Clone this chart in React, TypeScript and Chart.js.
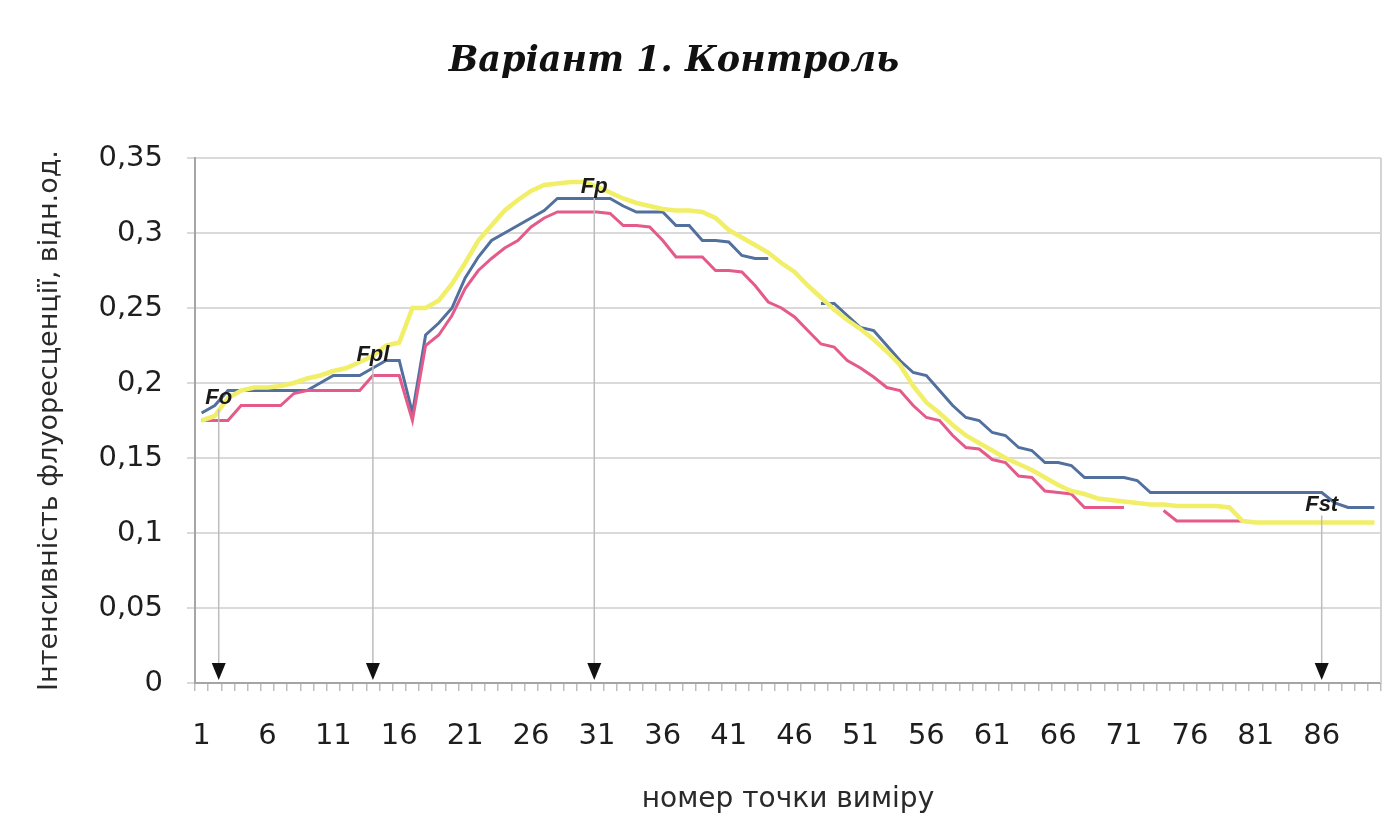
import React, { useEffect, useRef } from "react";
import { Chart, registerables } from "chart.js";

Chart.register(...registerables);

const TITLE = "Варіант 1. Контроль";
const Y_TITLE = "Інтенсивність флуоресценції, відн.од.";
const X_TITLE = "номер точки виміру";

const POINT_COUNT = 90;
const categories: string[] = Array.from({ length: POINT_COUNT }, (_, i) => String(i + 1));

const blueSeries: (number | null)[] = [
  0.18, 0.185, 0.195, 0.195, 0.195, 0.195, 0.195, 0.195, 0.195, 0.2,
  0.205, 0.205, 0.205, 0.21, 0.215, 0.215, 0.18, 0.232, 0.24, 0.25,
  0.27, 0.284, 0.295, 0.3, 0.305, 0.31, 0.315, 0.323, 0.323, 0.323,
  0.323, 0.323, 0.318, 0.314, 0.314, 0.314, 0.305, 0.305, 0.295, 0.295,
  0.294, 0.285, 0.283, 0.283, null, null, null, 0.253, 0.253, 0.245,
  0.237, 0.235, 0.225, 0.215, 0.207, 0.205, 0.195, 0.185, 0.177, 0.175,
  0.167, 0.165, 0.157, 0.155, 0.147, 0.147, 0.145, 0.137, 0.137, 0.137,
  0.137, 0.135, 0.127, 0.127, 0.127, 0.127, 0.127, 0.127, 0.127, 0.127,
  0.127, 0.127, 0.127, 0.127, 0.127, 0.127, 0.12, 0.117, 0.117, 0.117,
];

const pinkSeries: (number | null)[] = [
  0.175, 0.175, 0.175, 0.185, 0.185, 0.185, 0.185, 0.193, 0.195, 0.195,
  0.195, 0.195, 0.195, 0.205, 0.205, 0.205, 0.175, 0.225, 0.232, 0.245,
  0.263, 0.275, 0.283, 0.29, 0.295, 0.304, 0.31, 0.314, 0.314, 0.314,
  0.314, 0.313, 0.305, 0.305, 0.304, 0.295, 0.284, 0.284, 0.284, 0.275,
  0.275, 0.274, 0.265, 0.254, 0.25, 0.244, 0.235, 0.226, 0.224, 0.215,
  0.21, 0.204, 0.197, 0.195, 0.185, 0.177, 0.175, 0.165, 0.157, 0.156,
  0.149, 0.147, 0.138, 0.137, 0.128, 0.127, 0.126, 0.117, 0.117, 0.117,
  0.117, null, null, 0.115, 0.108, 0.108, 0.108, 0.108, 0.108, 0.108,
  null, null, null, null, null, null, null, null, null, null,
];

const yellowSeries: (number | null)[] = [
  0.175, 0.178, 0.19, 0.195, 0.197, 0.197, 0.198, 0.2, 0.203, 0.205,
  0.208, 0.21, 0.214, 0.218, 0.225, 0.227, 0.25, 0.25, 0.255, 0.266,
  0.28, 0.295, 0.305, 0.315, 0.322, 0.328, 0.332, 0.333, 0.334, 0.334,
  0.331, 0.327, 0.323, 0.32, 0.318, 0.316, 0.315, 0.315, 0.314, 0.31,
  0.302, 0.297, 0.292, 0.287, 0.28, 0.274, 0.265, 0.257, 0.249, 0.242,
  0.236, 0.229, 0.221, 0.212, 0.198, 0.187, 0.18, 0.172, 0.165, 0.16,
  0.155, 0.15, 0.146, 0.142, 0.137, 0.132, 0.128, 0.126, 0.123, 0.122,
  0.121, 0.12, 0.119, 0.119, 0.118, 0.118, 0.118, 0.118, 0.117, 0.108,
  0.107, 0.107, 0.107, 0.107, 0.107, 0.107, 0.107, 0.107, 0.107, 0.107,
];

// Annotation markers (point number on x axis, label, level of the label)
const markerPoints = [2.3, 14, 30.8, 86];
const markerLabels = ["Fo", "Fpl", "Fp", "Fst"];
const markerLevels = [0.19, 0.219, 0.331, 0.119];

const Y_MIN = 0;
const Y_MAX = 0.35;
const Y_STEP = 0.05;

const fmtComma = (v: number) => String(Math.round(v * 100) / 100).replace(".", ",");

const titlePlugin = {
  id: "customTitle",
  afterDraw(chart: any) {
    const { ctx } = chart;
    ctx.save();
    ctx.font = "italic bold 35px 'DejaVu Serif'";
    ctx.fillStyle = "#111";
    ctx.textAlign = "center";
    ctx.textBaseline = "middle";
    ctx.fillText(TITLE, 674, 62);
    ctx.restore();
  },
};

const framePlugin = {
  id: "plotFrame",
  beforeDatasetsDraw(chart: any) {
    const { ctx, chartArea } = chart;
    ctx.save();
    ctx.strokeStyle = "#d4d4d4";
    ctx.lineWidth = 2;
    ctx.beginPath();
    ctx.moveTo(chartArea.right, chartArea.top);
    ctx.lineTo(chartArea.right, chartArea.bottom);
    ctx.stroke();
    ctx.restore();
  },
};

const markerPlugin = {
  id: "markers",
  afterDatasetsDraw(chart: any) {
    const { ctx } = chart;
    const xs = chart.scales.x;
    const ys = chart.scales.y;
    ctx.save();
    markerPoints.forEach((p, k) => {
      const x = xs.getPixelForValue(p - 1);
      const yLabel = ys.getPixelForValue(markerLevels[k]);
      const y0 = ys.getPixelForValue(0);
      ctx.strokeStyle = "#bdbdbd";
      ctx.lineWidth = 1.5;
      ctx.beginPath();
      ctx.moveTo(x, yLabel + 11);
      ctx.lineTo(x, y0 - 12);
      ctx.stroke();
      ctx.fillStyle = "#111";
      ctx.beginPath();
      ctx.moveTo(x - 7, y0 - 20);
      ctx.lineTo(x + 7, y0 - 20);
      ctx.lineTo(x, y0 - 3);
      ctx.closePath();
      ctx.fill();
      ctx.font = "italic bold 22px 'Liberation Sans'";
      ctx.textAlign = "center";
      ctx.textBaseline = "middle";
      ctx.fillStyle = "#1a1a1a";
      ctx.fillText(markerLabels[k], x, yLabel);
    });
    ctx.restore();
  },
};

export default function App() {
  const canvasRef = useRef<HTMLCanvasElement | null>(null);

  useEffect(() => {
    if (!canvasRef.current) return;
    const chart = new Chart(canvasRef.current, {
      type: "line",
      data: {
        labels: categories,
        datasets: [
          {
            label: "Серія 1",
            data: blueSeries,
            borderColor: "#52709e",
            borderWidth: 3,
            pointRadius: 0,
            tension: 0,
            spanGaps: false,
            order: 3,
          },
          {
            label: "Серія 2",
            data: pinkSeries,
            borderColor: "#e45a8b",
            borderWidth: 3,
            pointRadius: 0,
            tension: 0,
            spanGaps: false,
            order: 2,
          },
          {
            label: "Серія 3",
            data: yellowSeries,
            borderColor: "#f1ee68",
            borderWidth: 4.5,
            pointRadius: 0,
            tension: 0,
            spanGaps: false,
            order: 1,
          },
        ],
      },
      options: {
        animation: false,
        responsive: true,
        maintainAspectRatio: false,
        layout: { padding: { top: 158, right: 12, bottom: 0, left: 0 } },
        plugins: {
          legend: { display: false },
          tooltip: { enabled: false },
          title: { display: false },
        },
        scales: {
          x: {
            type: "category",
            offset: true,
            grid: {
              offset: true,
              drawOnChartArea: false,
              drawTicks: true,
              tickLength: 8,
              color: "#bdbdbd",
              lineWidth: 1.5,
            },
            border: { display: true, color: "#a5a5a5", width: 2 },
            ticks: {
              autoSkip: false,
              maxRotation: 0,
              minRotation: 0,
              padding: 28,
              color: "#1e1e1e",
              font: { family: "'DejaVu Sans'", size: 29 },
              callback: (_v: any, i: number) => (i % 5 === 0 ? categories[i] : ""),
            },
            title: {
              display: true,
              text: X_TITLE,
              color: "#2a2a2a",
              font: { family: "'DejaVu Sans'", size: 28 },
              padding: { top: 0, bottom: 11 },
            },
            afterFit: (s: any) => {
              s.height = 145;
              s.paddingLeft = 0;
              s.paddingRight = 0;
            },
          },
          y: {
            min: Y_MIN,
            max: Y_MAX,
            grid: {
              color: "#dadada",
              lineWidth: 2,
              drawTicks: true,
              tickLength: 8,
            },
            border: { display: true, color: "#a5a5a5", width: 2 },
            ticks: {
              stepSize: Y_STEP,
              padding: 24,
              color: "#1e1e1e",
              font: { family: "'DejaVu Sans'", size: 29 },
              callback: (v: any) => fmtComma(Number(v)),
            },
            title: {
              display: true,
              text: Y_TITLE,
              color: "#2a2a2a",
              font: { family: "'DejaVu Sans'", size: 27 },
              padding: { top: 34, bottom: 0 },
            },
            afterFit: (s: any) => {
              s.width = 195;
            },
          },
        },
      },
      plugins: [framePlugin, markerPlugin, titlePlugin],
    });
    return () => chart.destroy();
  }, []);

  return (
    <div
      style={{
        position: "fixed",
        left: 0,
        top: 0,
        width: 1393,
        height: 828,
        background: "#fff",
      }}
    >
      <canvas ref={canvasRef} />
    </div>
  );
}
